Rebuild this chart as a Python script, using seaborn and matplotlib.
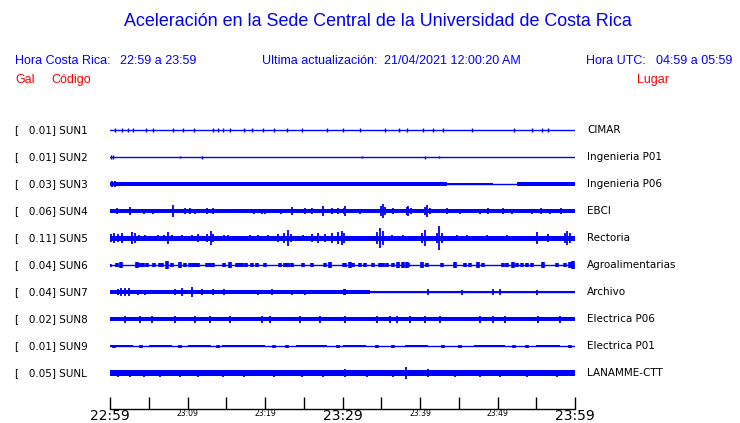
import pandas as pd
import matplotlib
matplotlib.use("Agg")
import matplotlib.pyplot as plt
import seaborn as sns

# --- datos de las estaciones ---
codigos = ["SUN1", "SUN2", "SUN3", "SUN4", "SUN5", "SUN6", "SUN7", "SUN8", "SUN9", "SUNL"]
gal_max = ["0.01", "0.01", "0.03", "0.06", "0.11", "0.04", "0.04", "0.02", "0.01", "0.05"]
lugares = ["CIMAR", "Ingenieria P01", "Ingenieria P06", "EBCI", "Rectoria",
           "Agroalimentarias", "Archivo", "Electrica P06", "Electrica P01", "LANAMME-CTT"]

# minutos desde 22:59
tick_minutos = [0, 5, 10, 15, 20, 25, 30, 35, 40, 45, 50, 55, 60]
tick_labels = ["22:59", "", "23:09", "", "23:19", "", "23:29", "", "23:39", "", "23:49", "", "23:59"]

# ruido de fondo por tramos: (inicio, fin, semiamplitud)
bandas = {
    "SUN1": [],
    "SUN2": [],
    "SUN3": [(0, 43.5, 2.0), (43.5, 49.4, 1.3), (52.5, 60, 1.6)],
    "SUN4": [(0, 60, 2.3)],
    "SUN5": [(0, 60, 2.5)],
    "SUN6": [],
    "SUN7": [(0, 33.5, 2.0), (33.5, 60, 1.4)],
    "SUN8": [(0, 60, 2.4)],
    "SUN9": [(0, 3, 1.0), (5, 8, 1.0), (10, 13, 1.0), (14.5, 20, 1.2), (24, 28, 1.0),
             (30, 33, 1.0), (38, 41, 1.0), (47, 51, 1.0), (55, 58, 1.0)],
    "SUNL": [(0, 60, 2.6)],
}

# picos: (minuto, semiamplitud)
picos = {
    "SUN1": [(0.6, 2), (1.5, 2), (2.3, 1.5), (3.0, 1.5), (4.6, 2), (5.5, 2), (8.1, 1.5), (9.4, 1.5),
             (10.8, 2), (13.3, 1.5), (13.9, 1.5), (14.6, 1.5), (15.5, 1.5), (17.3, 2), (18.3, 1.5),
             (19.7, 1.5), (21.2, 1.5), (22.8, 1.5), (24.8, 1.5), (28.0, 1.5), (30.1, 1.5), (32.3, 2),
             (35.5, 2), (37.3, 2), (38.3, 1.5), (40.4, 2), (41.7, 2), (43.0, 2), (46.7, 1.5),
             (52.1, 2), (54.5, 1.5), (55.7, 2), (56.5, 1.5)],
    "SUN2": [(0.1, 2), (0.4, 2), (9.0, 1), (11.9, 1.5), (32.5, 1), (40.6, 1.5), (42.5, 1)],
    "SUN3": [(0.3, 3), (0.6, 3)],
    "SUN4": [(0.9, 3), (2.6, 4), (4.4, 2.5), (5.5, 2.5), (8.1, 6), (9.7, 3), (10.3, 3), (11.0, 2.5),
             (12.5, 3), (13.3, 3), (18.6, 2.5), (19.6, 2.5), (20.0, 2.5), (22.1, 2.5), (23.5, 4),
             (25.2, 3), (26.1, 3), (27.5, 5), (28.6, 3), (29.4, 3), (30.2, 3), (30.3, 5),
             (32.3, 2.5), (35.0, 5), (35.2, 7), (35.5, 4), (36.5, 3), (38.3, 4), (38.5, 5), (38.8, 3),
             (40.6, 4), (40.9, 6), (41.3, 3), (43.5, 3), (45.2, 2.5), (47.7, 2.5), (48.8, 3),
             (50.7, 3), (51.9, 2.5), (54.5, 2.5), (55.6, 3), (56.8, 2.5), (58.2, 3)],
    "SUN5": [(0.1, 4), (0.5, 5), (1.0, 4), (1.5, 5), (2.8, 6), (3.2, 5), (3.8, 3), (4.5, 3),
             (6.2, 3), (7.0, 3), (7.5, 6), (8.0, 3), (9.3, 3), (10.6, 3), (11.4, 4), (12.5, 4),
             (13.0, 7), (13.3, 4), (14.7, 3), (15.2, 3), (18.1, 3), (19.1, 3), (20.4, 3), (21.7, 4),
             (22.4, 5), (23.0, 8), (23.4, 4), (24.9, 3), (26.1, 4), (26.8, 5), (27.7, 4), (28.6, 5),
             (29.4, 6), (29.9, 7), (30.2, 5), (34.5, 6), (34.8, 10), (35.2, 7), (36.4, 3), (37.8, 3),
             (40.3, 5), (40.6, 8), (42.2, 5), (42.5, 12), (42.8, 5), (44.8, 3), (46.1, 3), (48.6, 3),
             (51.2, 3), (55.1, 6), (56.5, 4), (58.7, 5), (59.0, 7), (59.4, 5)],
    "SUN6": [(0.0, 1.5), (0.9, 2), (1.4, 3), (3.5, 3), (3.9, 2), (4.3, 2), (4.8, 2), (5.7, 2),
             (6.5, 2), (6.7, 2), (7.4, 4), (8.0, 2), (9.0, 3), (9.7, 2), (10.3, 2), (10.6, 2),
             (11.0, 2), (11.4, 2), (12.5, 2), (12.9, 2), (13.3, 2), (14.7, 2), (15.5, 3), (16.4, 2),
             (16.8, 2), (17.0, 2), (17.6, 2), (18.3, 2), (19.0, 2), (20.0, 2), (21.9, 2), (22.6, 2),
             (23.0, 2), (23.5, 2), (24.9, 2), (26.1, 2), (27.7, 2), (28.4, 3), (30.2, 2), (30.3, 2),
             (31.0, 3), (31.4, 2), (32.3, 2), (32.9, 2), (33.9, 2), (34.8, 2), (35.2, 2), (35.7, 2),
             (36.5, 2), (37.2, 3), (37.8, 3), (38.3, 3), (38.5, 2), (40.3, 3), (40.9, 2), (42.9, 2),
             (44.5, 3), (45.8, 2), (46.5, 2), (47.5, 3), (48.1, 2), (50.7, 2), (51.2, 2), (52.0, 3),
             (52.5, 2), (53.2, 2), (53.8, 2), (54.5, 2), (55.9, 3), (57.7, 2), (58.7, 2), (59.4, 3),
             (59.7, 4)],
    "SUN7": [(1.0, 3), (1.4, 4), (1.9, 4), (2.5, 4), (3.6, 2.5), (4.5, 2.5), (8.4, 3), (9.3, 4),
             (10.6, 5), (11.9, 3), (13.3, 3), (14.7, 3), (19.1, 2.5), (20.9, 3), (23.5, 2.5),
             (25.2, 2.5), (30.2, 3), (30.3, 3), (41.0, 3), (45.4, 2.5), (49.4, 3), (50.3, 3), (55.1, 2.5)],
    "SUN8": [(1.9, 3.5), (3.9, 3.5), (5.4, 3.5), (8.4, 3.5), (11.0, 3.5), (12.9, 3.5), (15.5, 3.5),
             (19.6, 3.5), (20.6, 3.5), (24.5, 3.5), (27.1, 3.5), (30.3, 3.5), (34.5, 3.5), (36.1, 3.5),
             (37.0, 3.5), (38.7, 3.5), (40.6, 3.5), (42.6, 3.5), (47.7, 3.5), (49.4, 3.5), (51.0, 3.5),
             (55.2, 3.5), (58.1, 3.5)],
    "SUN9": [(0.5, 1.5), (4.0, 1.5), (9.0, 1.5), (13.9, 1.5), (21.2, 1.5), (22.8, 1.5), (29.4, 1.5),
             (34.5, 1.5), (36.5, 1.5), (43.0, 1.5), (45.2, 1.5), (52.1, 1.5), (53.8, 1.5), (59.4, 1.5)],
    "SUNL": [(1.0, 3.5), (2.6, 3.5), (4.4, 3.5), (6.5, 3.5), (9.0, 3.5), (11.4, 3.5), (14.6, 3.5),
             (17.3, 3.5), (21.2, 3.5), (24.8, 3.5), (27.5, 3.5), (30.3, 4), (33.2, 3.5), (36.5, 3.5),
             (38.2, 6), (41.0, 4), (44.5, 3.5), (47.7, 3.5), (50.3, 3.5), (53.8, 3.5), (57.7, 3.5)],
}

AZUL = "#0000ff"
ESCALA = 1 / 27  # semiamplitud -> fraccion de la separacion entre trazas
# grosor de los picos por estacion (las de bloques se ven mas anchas)
grosor_pico = {"SUN6": 2.6, "SUN9": 2.6, "SUN1": 1.0, "SUN2": 1.0}

sns.set_theme(style="white")
plt.rcParams["font.family"] = ["DejaVu Sans"]

fig = plt.figure(figsize=(7.4, 4.23), dpi=100)
ax = fig.add_axes([110 / 740, 14 / 423, 465 / 740, 293 / 423])

# linea base de cada estacion
df_base = pd.DataFrame({
    "minuto": [0, 60] * len(codigos),
    "fila": [i for i in range(len(codigos)) for _ in range(2)],
    "codigo": [c for c in codigos for _ in range(2)],
})
sns.lineplot(data=df_base, x="minuto", y="fila", units="codigo", estimator=None,
             color=AZUL, lw=1, ax=ax, legend=False)

for i, cod in enumerate(codigos):
    for ini, fin, amp in bandas[cod]:
        ax.fill_between([ini, fin], i - amp * ESCALA, i + amp * ESCALA, color=AZUL, lw=0)
    if picos[cod]:
        m = [p[0] for p in picos[cod]]
        a = [p[1] * ESCALA for p in picos[cod]]
        ax.vlines(m, [i - v for v in a], [i + v for v in a], color=AZUL,
                  lw=grosor_pico.get(cod, 1.3))

ax.set_xlim(0, 60)
ax.set_ylim(10.333, -0.5185)
ax.set_xlabel("")
ax.set_ylabel("")
ax.set_yticks([])
for s in ["top", "left", "right"]:
    ax.spines[s].set_visible(False)
ax.spines["bottom"].set_color("black")
ax.spines["bottom"].set_linewidth(1)
ax.set_xticks(tick_minutos)
ax.set_xticklabels(tick_labels)
ax.tick_params(axis="x", direction="in", length=9, width=1, color="black", pad=0.3,
               bottom=True, labelcolor="black")
for lab in ax.get_xticklabels():
    if lab.get_text() in ("22:59", "23:29", "23:59"):
        lab.set_fontsize(10)
    else:
        lab.set_fontsize(5.5)

# etiquetas de estaciones
trans = ax.get_yaxis_transform()
for i, cod in enumerate(codigos):
    ax.text(-95 / 465, i, f"[   {gal_max[i]}] {cod}", transform=trans, fontsize=7.5,
            va="center", ha="left", color="black", clip_on=False)
    ax.text(477 / 465, i, lugares[i], transform=trans, fontsize=7.5,
            va="center", ha="left", color="black", clip_on=False)

# encabezado
def px(x, y):
    return x / 740, 1 - y / 423

hdr = dict(family="Liberation Sans", va="center", ha="left", fontsize=9)
fig.text(*px(378, 22), "Aceleración en la Sede Central de la Universidad de Costa Rica",
         fontsize=12.9, color=AZUL, family="Liberation Sans", va="center", ha="center")
fig.text(*px(15, 61), "Hora Costa Rica:", color=AZUL, **hdr)
fig.text(*px(120, 61), "22:59 a 23:59", color=AZUL, **hdr)
fig.text(*px(262, 61), "Ultima actualización:", color=AZUL, **hdr)
fig.text(*px(384, 61), "21/04/2021 12:00:20 AM", color=AZUL, **hdr)
fig.text(*px(586, 61), "Hora UTC:", color=AZUL, **hdr)
fig.text(*px(656, 61), "04:59 a 05:59", color=AZUL, **hdr)
fig.text(*px(15, 80), "Gal", color="red", **hdr)
fig.text(*px(51, 80), "Código", color="red", **hdr)
fig.text(*px(637, 80), "Lugar", color="red", **hdr)

fig.savefig("out.png", dpi=100, facecolor="white")
